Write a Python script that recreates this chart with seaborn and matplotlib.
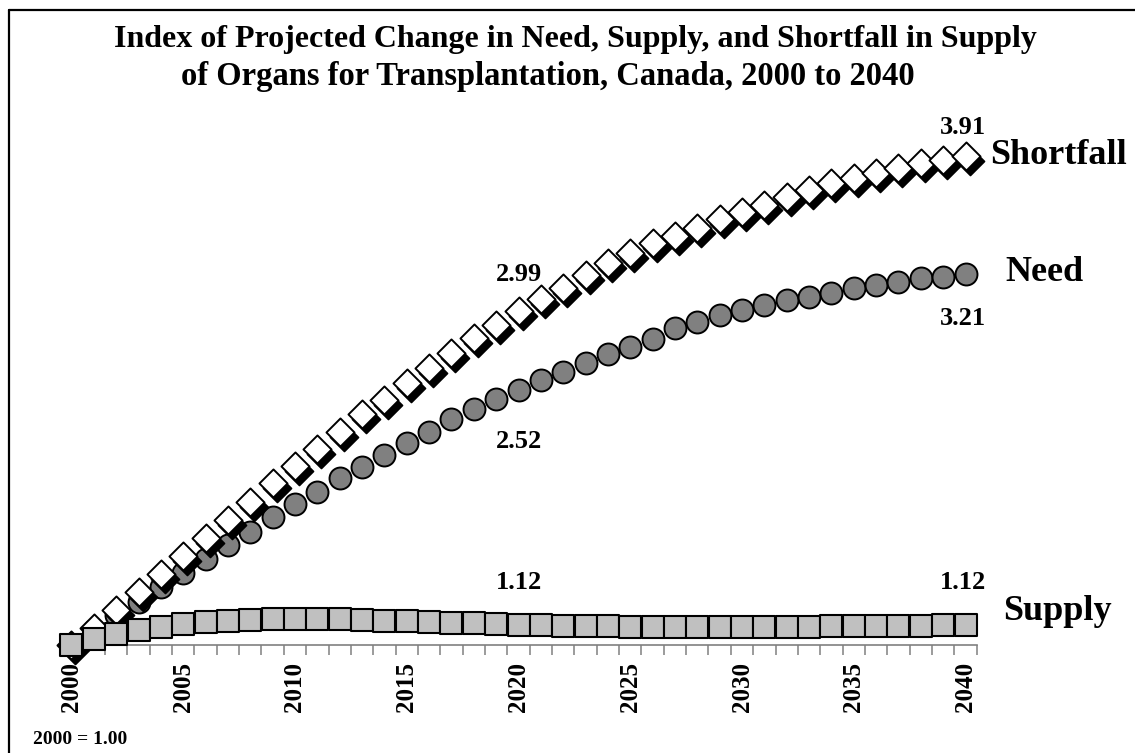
import numpy as np
import pandas as pd
import matplotlib
matplotlib.use("Agg")
import matplotlib.pyplot as plt
import matplotlib.transforms as mtransforms
from matplotlib.lines import Line2D
import seaborn as sns

years = list(range(2000, 2041))
shortfall = [1.00, 1.10, 1.208, 1.317, 1.423, 1.532, 1.639, 1.744, 1.853, 1.963,
             2.065, 2.165, 2.270, 2.375, 2.458, 2.558, 2.647, 2.736, 2.826, 2.905,
             2.99, 3.058, 3.123, 3.202, 3.272, 3.332, 3.391, 3.435, 3.480, 3.534,
             3.579, 3.619, 3.668, 3.708, 3.748, 3.778, 3.808, 3.837, 3.867, 3.887,
             3.91]
need = [1.00, 1.09, 1.179, 1.258, 1.347, 1.430, 1.510, 1.595, 1.674, 1.763,
        1.839, 1.912, 1.992, 2.060, 2.131, 2.204, 2.270, 2.343, 2.403, 2.462,
        2.52, 2.575, 2.627, 2.680, 2.730, 2.774, 2.820, 2.885, 2.924, 2.964,
        2.994, 3.024, 3.054, 3.073, 3.093, 3.123, 3.143, 3.163, 3.183, 3.193,
        3.21]
supply = [1.00, 1.036, 1.064, 1.089, 1.109, 1.123, 1.135, 1.143, 1.149, 1.153,
          1.155, 1.155, 1.153, 1.149, 1.145, 1.141, 1.135, 1.133, 1.129, 1.125,
          1.12, 1.118, 1.115, 1.113, 1.111, 1.110, 1.110, 1.110, 1.110, 1.110,
          1.110, 1.110, 1.110, 1.110, 1.111, 1.112, 1.113, 1.114, 1.116, 1.118,
          1.12]
tick_years = list(range(2000, 2041, 5))

title_line1 = "Index of Projected Change in Need, Supply, and Shortfall in Supply"
title_line2 = "of Organs for Transplantation, Canada, 2000 to 2040"
note = "2000 = 1.00"

df = pd.DataFrame({"year": years, "Shortfall": shortfall, "Need": need, "Supply": supply})

sns.set_theme(style="white")
plt.rcParams["font.family"] = ["Liberation Serif", "DejaVu Serif"]
plt.rcParams["font.weight"] = "bold"
plt.rcParams["text.color"] = "black"
plt.rcParams["xtick.color"] = "black"
plt.rcParams["xtick.labelcolor"] = "black"

W, H = 1135, 753
fig = plt.figure(figsize=(W / 100, H / 100), dpi=100)
ax = fig.add_axes([60.3 / W, 1 - 645 / H, (976.7 - 60.3) / W, (645 - 141) / H])

# Need circles
sns.scatterplot(data=df, x="year", y="Need", marker="o", s=15.8 ** 2,
                color="#808080", edgecolor="black", linewidth=1.4,
                zorder=2, clip_on=False, legend=False, ax=ax)
# Shortfall shadow
shadow_tr = mtransforms.offset_copy(ax.transData, fig=fig, x=4, y=-5, units="dots")
sns.scatterplot(data=df, x="year", y="Shortfall", marker="D", s=14.3 ** 2,
                color="black", edgecolor="black", linewidth=1.2,
                zorder=3, clip_on=False, legend=False, ax=ax, transform=shadow_tr)
# Shortfall diamonds
sns.scatterplot(data=df, x="year", y="Shortfall", marker="D", s=14.3 ** 2,
                color="white", edgecolor="black", linewidth=1.4,
                zorder=4, clip_on=False, legend=False, ax=ax)
# Supply squares
sns.scatterplot(data=df, x="year", y="Supply", marker="s", s=15.8 ** 2,
                color="#C0C0C0", edgecolor="black", linewidth=1.5,
                zorder=5, clip_on=False, legend=False, ax=ax)

ax.set_xlim(1999.5, 2040.5)
ax.set_ylim(1.0, 4.0)
ax.set_xlabel("")
ax.set_ylabel("")
ax.set_yticks([])
for side in ["left", "right", "top"]:
    ax.spines[side].set_visible(False)
ax.spines["bottom"].set_color("#808080")
ax.spines["bottom"].set_linewidth(1.2)
ax.spines["bottom"].set_zorder(1)

ax.set_xticks(tick_years)
ax.set_xticklabels([str(y) for y in tick_years], rotation=90, fontsize=18,
                   fontweight="bold", va="top", ha="center", color="black")
ax.set_xticks(np.arange(1999.5, 2041, 1.0), minor=True)
ax.tick_params(axis="x", which="major", length=0, pad=12.5)
ax.tick_params(axis="x", which="minor", length=7, width=1.1, color="#808080",
               direction="out", bottom=True)

# Value labels
def lab(txt, x, y, dx, dy, size, ha="center"):
    ax.annotate(txt, xy=(x, y), xytext=(dx, -dy), textcoords="offset pixels",
                ha=ha, va="center", fontsize=size, fontweight="bold",
                color="black", annotation_clip=False, zorder=6)

lab("3.91", 2040, shortfall[-1], -2.5, -29, 19)
lab("2.99", 2020, shortfall[20], 0, -36, 19)
lab("3.21", 2040, need[-1], -2.5, 45, 19)
lab("2.52", 2020, need[20], 0, 52, 19)
lab("1.12", 2020, supply[20], 0, -42, 19)
lab("1.12", 2040, supply[-1], -2.5, -42, 19)
lab("Shortfall", 2040, shortfall[-1], 24.5, -1, 26, ha="left")
lab("Need", 2040, need[-1], 39.5, -1, 26, ha="left")
lab("Supply", 2040, supply[-1], 37.5, -13, 26, ha="left")

fig.text(575 / W, 1 - 40 / H, title_line1, ha="center", va="center", fontsize=23,
         fontweight="bold", color="black")
fig.text(548 / W, 1 - 77 / H, title_line2, ha="center", va="center", fontsize=23.5,
         fontweight="bold", color="black")
fig.text(33 / W, 1 - 740 / H, note, ha="left", va="center", fontsize=14,
         fontweight="bold", color="black")

# Figure border (top and left visible)
fig.add_artist(Line2D([9 / W, 9 / W], [0, 1 - 10 / H], transform=fig.transFigure,
                      color="black", lw=1.6))
fig.add_artist(Line2D([9 / W, 1], [1 - 10 / H, 1 - 10 / H], transform=fig.transFigure,
                      color="black", lw=1.6))

fig.savefig("out.png", dpi=100)
